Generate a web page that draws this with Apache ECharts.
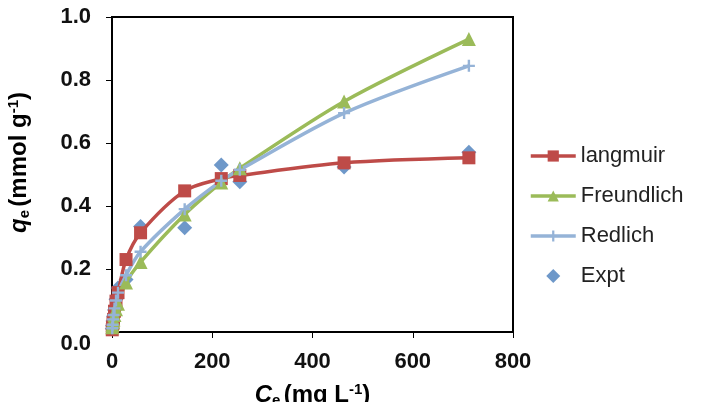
<!DOCTYPE html>
<html>
<head>
<meta charset="utf-8">
<script src="https://cdn.jsdelivr.net/npm/echarts@6/dist/echarts.min.js"></script>
<style>
  html, body { margin: 0; padding: 0; background: #fff; }
  #chart { width: 703px; height: 402px; }
</style>
</head>
<body>
<div id="chart"></div>
<script>
// equilibrium concentration (mg/L)
const ce = [0.5, 1, 2, 3, 5, 8, 12, 28, 57, 145, 218, 255, 463, 712];
// uptake q_e (mmol/g)
const langmuir = [0.007, 0.014, 0.028, 0.04, 0.066, 0.098, 0.125, 0.23, 0.315, 0.448, 0.487, 0.497, 0.537, 0.553];
const freundlich = [0.015, 0.022, 0.032, 0.04, 0.054, 0.072, 0.09, 0.157, 0.222, 0.373, 0.475, 0.52, 0.732, 0.93];
const redlich = [0.012, 0.023, 0.04, 0.054, 0.075, 0.1, 0.125, 0.18, 0.255, 0.39, 0.48, 0.515, 0.695, 0.845];
const expt = [0.01, 0.02, 0.035, 0.05, 0.07, 0.104, 0.14, 0.167, 0.335, 0.331, 0.53, 0.477, 0.524, 0.571];

const xTicks = { min: 0, max: 800, interval: 200 };
const yTicks = { min: 0, max: 1, interval: 0.2 };

const pairs = (ys) => ce.map((x, i) => [x, ys[i]]);

const chart = echarts.init(document.getElementById('chart'));

const font = 'Liberation Sans, Arial, sans-serif';
const plus = 'path://M4,0h2v4h4v2h-4v4h-2v-4h-4v-2h4z';
const diamond = 'path://M5,0L10,5L5,10L0,5z';

// rich styles for axis titles (italic symbol, subscript, superscript)
const titleRich = {
  i: { fontFamily: font, fontWeight: 'bold', fontStyle: 'italic', fontSize: 24, color: '#000' },
  b: { fontFamily: font, fontWeight: 'bold', fontSize: 24, color: '#000' },
  sub: { fontFamily: font, fontWeight: 'bold', fontSize: 15, color: '#000', verticalAlign: 'bottom', padding: [11, 0, 0, 0] },
  sup: { fontFamily: font, fontWeight: 'bold', fontSize: 15, color: '#000', verticalAlign: 'top', padding: [0, 0, 11, 0] },
};

function lineSeries(name, ys, color, symbol, size) {
  return {
    name,
    type: 'line',
    data: pairs(ys),
    smooth: 0.3,
    symbol,
    symbolSize: size,
    showAllSymbol: true,
    lineStyle: { color, width: 3.5 },
    itemStyle: { color },
    emphasis: { disabled: true },
  };
}

chart.setOption({
  animation: false,
  grid: {
    left: 112,
    right: 190,
    top: 17,
    bottom: 70,
    outerBoundsMode: 'none',
    show: true,
    borderColor: '#000',
    borderWidth: 2,
  },
  legend: {
    orient: 'vertical',
    left: 529,
    top: 143,
    padding: 0,
    itemWidth: 45,
    itemHeight: 14,
    itemGap: 14,
    lineStyle: { width: 3.5 },
    textStyle: { fontFamily: font, fontSize: 22, color: '#222', lineHeight: 26 },
    data: ['langmuir', 'Freundlich', 'Redlich', { name: 'Expt', icon: diamond }],
  },
  xAxis: {
    type: 'value',
    min: xTicks.min,
    max: xTicks.max,
    interval: xTicks.interval,
    axisLine: { lineStyle: { color: '#000', width: 2 } },
    axisTick: { show: true, inside: false, length: 6, lineStyle: { color: '#000', width: 1 } },
    axisLabel: { fontFamily: font, fontWeight: 'bold', fontSize: 22, color: '#111', margin: 19 },
    splitLine: { show: false },
    name: '{i|C}{sub|e} {b|(mg L}{sup|-1}{b|)}',
    nameLocation: 'middle',
    nameGap: 50,
    nameTextStyle: { rich: titleRich },
  },
  yAxis: {
    type: 'value',
    min: yTicks.min,
    max: yTicks.max,
    interval: yTicks.interval,
    axisLine: { show: true, lineStyle: { color: '#000', width: 2 } },
    axisTick: { show: true, inside: false, length: 6, lineStyle: { color: '#000', width: 1 } },
    axisLabel: {
      fontFamily: font, fontWeight: 'bold', fontSize: 22, color: '#111', margin: 21,
      formatter: (v) => (v === 0 ? '{g| }\n{z|0.0}' : v.toFixed(1)),
      rich: {
        g: { fontSize: 10, lineHeight: 24 },
        z: { fontFamily: font, fontWeight: 'bold', fontSize: 22, color: '#111', lineHeight: 22 },
      },
    },
    splitLine: { show: false },
    name: '{i|q}{sub|e} {b|(mmol g}{sup|-1}{b|)}',
    nameLocation: 'middle',
    nameGap: 80,
    nameRotate: 90,
    nameTextStyle: { padding: [0, 0, 0, 24], rich: titleRich },
  },
  series: [
    lineSeries('langmuir', langmuir, '#BE4B48', 'rect', 13),
    lineSeries('Freundlich', freundlich, '#9BBB59', 'triangle', 14),
    lineSeries('Redlich', redlich, '#95B3D7', plus, 12),
    {
      name: 'Expt',
      type: 'scatter',
      data: pairs(expt),
      symbol: 'diamond',
      symbolSize: 15,
      itemStyle: { color: '#4A7EBB' },
      emphasis: { disabled: true },
    },
  ],
});
</script>
</body>
</html>
